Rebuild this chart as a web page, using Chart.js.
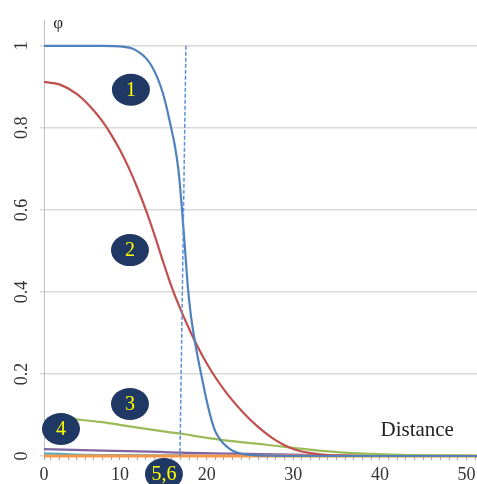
<!DOCTYPE html>
<html>
<head>
<meta charset="utf-8">
<title>phi vs distance</title>
<script src="https://cdn.jsdelivr.net/npm/chart.js@4.4.1/dist/chart.umd.min.js"></script>
<style>
  html, body { margin: 0; padding: 0; background: #fff; }
  #wrap { width: 477px; height: 484px; position: relative; }
</style>
</head>
<body>
<div id="wrap"><canvas id="chart"></canvas></div>
<script>
// axis range (x axis starts a little right of the "0" label, as in the original)
const xMin = 1.23;
const xMax = 51.2;
const yMax = 1.063;
const yTicks = [0, 0.2, 0.4, 0.6, 0.8, 1];

// curve 1 (blue)
const x1 = [1.23, 8, 10.3, 11.5, 12.3, 13, 13.7, 14.3, 14.9, 15.4, 15.85, 16.3, 16.7, 16.9, 17.14, 17.5, 17.84, 18.2, 18.6, 19.0, 19.4, 19.8, 20.2, 20.6, 21.0, 21.5, 22, 22.5, 23, 23.6, 24.5, 26, 28, 30, 51.2];
const y1 = [1.0, 1.0, 0.998, 0.993, 0.983, 0.97, 0.949, 0.923, 0.888, 0.848, 0.805, 0.76, 0.705, 0.665, 0.605, 0.505, 0.41, 0.34, 0.285, 0.238, 0.196, 0.155, 0.117, 0.085, 0.06, 0.042, 0.029, 0.02, 0.013, 0.008, 0.004, 0.0015, 0.0005, 0, 0];

// curve 2 (red)
const x2 = [1.23, 3, 5, 7, 8, 9, 10, 11, 12, 13, 14, 15, 16, 17, 18, 19, 20, 21, 22, 23, 24, 25, 26, 27, 28, 29, 30, 31, 32, 34, 36, 38, 51.2];
const y2 = [0.912, 0.906, 0.883, 0.842, 0.815, 0.783, 0.746, 0.703, 0.654, 0.599, 0.538, 0.472, 0.41, 0.357, 0.309, 0.265, 0.226, 0.192, 0.162, 0.135, 0.111, 0.089, 0.07, 0.053, 0.038, 0.026, 0.017, 0.011, 0.007, 0.002, 0.0005, 0, 0];

// curve 3 (green)
const x3 = [4.0, 5.15, 7.7, 11.5, 15.4, 17.5, 19.2, 22.1, 26.7, 31.6, 35.4, 39.2, 43.1, 48, 51.2];
const y3 = [0.092, 0.089, 0.083, 0.071, 0.059, 0.053, 0.047, 0.038, 0.028, 0.016, 0.009, 0.005, 0.002, 0.001, 0.0005];

// curve 4 (purple)
const x4 = [1.23, 8, 14.6, 17, 23, 28, 33, 40, 51.2];
const y4 = [0.017, 0.013, 0.01, 0.008, 0.006, 0.004, 0.002, 0.001, 0];

// curves 5 and 6 (cyan, orange)
const x5 = [1.23, 3, 6, 10, 20, 51.2];
const y5 = [0.006, 0.005, 0.003, 0.002, 0.001, 0];
const x6 = [1.23, 10, 20, 30, 40, 51.2];
const y6 = [0, 0, 0, 0, 0, 0];

// vertical dashed marker
const xMark = [17.61, 16.92];
const yMark = [1.0, 0];

// circled labels, in data units
const tagText = ['1', '2', '3', '4', '5,6'];
const tagX = [11.26, 11.15, 11.15, 3.19, 15.07];
const tagY = [0.893, 0.502, 0.127, 0.066, -0.044];

const pts = (xs, ys) => xs.map((x, i) => ({ x: x, y: ys[i] }));

const serif = '"Liberation Serif", "Times New Roman", serif';

const overlay = {
  id: 'overlay',
  afterDraw(chart) {
    const { ctx, chartArea, scales: { x, y } } = chart;
    ctx.save();

    // y tick labels, rotated
    ctx.font = '18px ' + serif;
    ctx.fillStyle = '#333';
    ctx.textAlign = 'center';
    ctx.textBaseline = 'middle';
    y.ticks.forEach(t => {
      ctx.save();
      ctx.translate(chartArea.left - 22, y.getPixelForValue(t.value));
      ctx.rotate(-Math.PI / 2);
      ctx.fillText(String(t.value), 0, 0);
      ctx.restore();
    });

    // axis names
    ctx.fillStyle = '#222';
    ctx.font = '17px ' + serif;
    ctx.fillText('φ', x.getPixelForValue(2.85), y.getPixelForValue(1.055));
    ctx.font = '21px ' + serif;
    ctx.fillText('Distance', x.getPixelForValue(44.3), y.getPixelForValue(0.063));

    // navy ellipses with yellow numbers
    tagText.forEach((txt, i) => {
      const px = x.getPixelForValue(tagX[i]);
      const py = y.getPixelForValue(tagY[i]);
      ctx.beginPath();
      ctx.ellipse(px, py, 19, 16, 0, 0, Math.PI * 2);
      ctx.fillStyle = '#1F3864';
      ctx.fill();
      ctx.fillStyle = '#FFFF00';
      ctx.font = '20px ' + serif;
      ctx.fillText(txt, px, py + 1);
    });

    ctx.restore();
  }
};

new Chart(document.getElementById('chart'), {
  type: 'line',
  data: {
    datasets: [
      { data: pts(xMark, yMark), borderColor: '#5B8FDB', borderWidth: 1.5, borderDash: [4, 2], tension: 0 },
      { data: pts(x1, y1), borderColor: '#4F81BD', borderWidth: 2.2 },
      { data: pts(x2, y2), borderColor: '#C0504D', borderWidth: 2.2 },
      { data: pts(x3, y3), borderColor: '#9BBB59', borderWidth: 2.2 },
      { data: pts(x6, y6), borderColor: '#F79646', borderWidth: 3 },
      { data: pts(x4, y4), borderColor: '#8064A2', borderWidth: 2.2 },
      { data: pts(x5, y5), borderColor: '#4BACC6', borderWidth: 2.2 }
    ]
  },
  options: {
    responsive: true,
    maintainAspectRatio: false,
    animation: false,
    layout: { padding: { top: 20, right: 0, left: 0, bottom: 0 } },
    elements: {
      point: { radius: 0 },
      line: { cubicInterpolationMode: 'monotone', fill: false }
    },
    datasets: { line: { clip: false } },
    plugins: {
      legend: { display: false },
      tooltip: { enabled: false }
    },
    scales: {
      x: {
        type: 'linear',
        min: xMin,
        max: xMax,
        afterBuildTicks(scale) {
          const ticks = [{ value: xMin }];
          for (let v = 2; v <= 51; v++) ticks.push({ value: v });
          scale.ticks = ticks;
        },
        afterFit(scale) {
          scale.height = 28;
          scale.paddingLeft = 0;
          scale.paddingRight = 0;
        },
        grid: { drawOnChartArea: false, tickLength: 4, color: '#A6A6A6' },
        border: { color: '#BFBFBF' },
        ticks: {
          autoSkip: false,
          maxRotation: 0,
          padding: 4,
          color: '#333',
          font: { family: serif, size: 18 },
          callback(v) {
            if (v === xMin) return '0';
            return v % 10 === 0 ? String(v) : '';
          }
        }
      },
      y: {
        min: 0,
        max: yMax,
        afterBuildTicks(scale) {
          scale.ticks = yTicks.map(v => ({ value: v }));
        },
        afterFit(scale) { scale.width = 44; },
        grid: { color: '#D9D9D9', lineWidth: 1.5, tickLength: 4 },
        border: { color: '#BFBFBF' },
        ticks: { display: false }
      }
    }
  },
  plugins: [overlay]
});
</script>
</body>
</html>
